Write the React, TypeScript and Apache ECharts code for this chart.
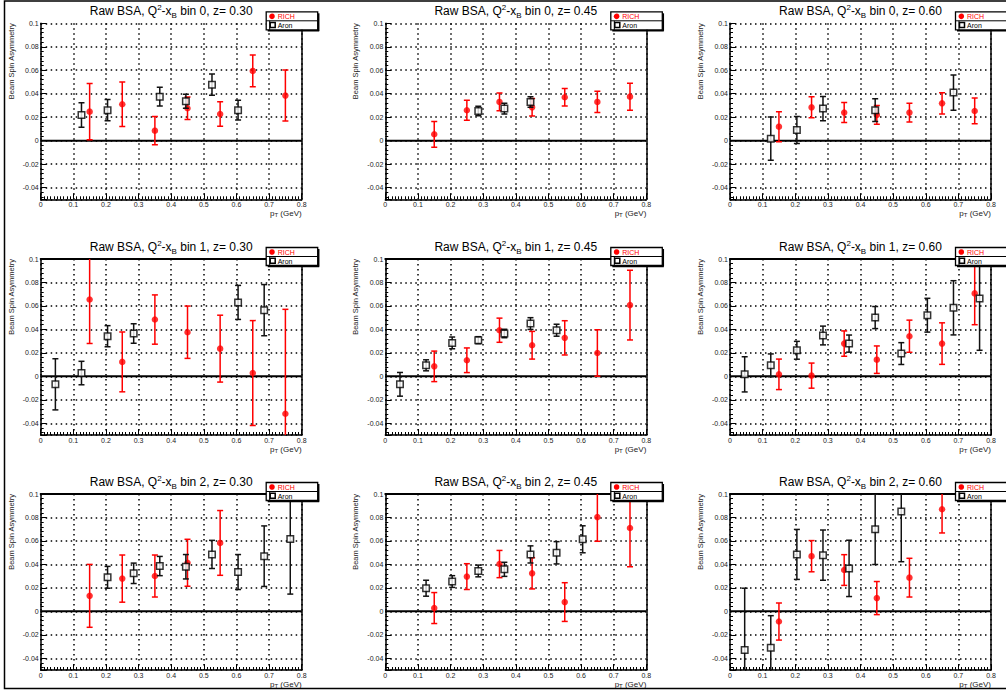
import React, { useEffect, useRef } from 'react';
import * as echarts from 'echarts';

// ---------- data ----------
const pT_RICH = [0.15, 0.25, 0.35, 0.45, 0.55, 0.65, 0.75];
const pT_Aron = [0.045, 0.125, 0.205, 0.285, 0.365, 0.445, 0.525, 0.605, 0.685, 0.765];

const xTickValues = [0, 0.1, 0.2, 0.3, 0.4, 0.5, 0.6, 0.7, 0.8];
const xTickLabels = ['0', '0.1', '0.2', '0.3', '0.4', '0.5', '0.6', '0.7', '0.8'];
const yTickValues = [-0.04, -0.02, 0, 0.02, 0.04, 0.06, 0.08, 0.1];
const yTickLabels = ['-0.04', '-0.02', '0', '0.02', '0.04', '0.06', '0.08', '0.1'];

const binLabels = ['0', '1', '2'];
const zLabels = ['0.30', '0.45', '0.60'];

// bin 0
const rich_b0_z30 = [0.0247, 0.031, 0.0085, 0.0276, 0.0227, 0.0594, 0.0384];
const richErr_b0_z30 = [0.024, 0.019, 0.012, 0.0095, 0.0104, 0.0135, 0.0217];
const aron_b0_z30 = [null, 0.0219, 0.026, null, 0.0375, 0.0335, 0.0477, 0.026, null, null];
const aronErr_b0_z30 = [null, 0.0104, 0.009, null, 0.008, 0.006, 0.009, 0.0085, null, null];

const rich_b0_z45 = [0.0054, 0.0259, 0.033, 0.0284, 0.037, 0.033, 0.0375];
const richErr_b0_z45 = [0.011, 0.0085, 0.0075, 0.0075, 0.0075, 0.009, 0.0115];
const aron_b0_z45 = [null, null, null, 0.0253, 0.0273, 0.033, null, null, null, null];
const aronErr_b0_z45 = [null, null, null, 0.004, 0.0045, 0.0045, null, null, null, null];

const rich_b0_z60 = [0.0119, 0.0284, 0.0239, 0.0219, 0.0239, 0.0318, 0.0253];
const richErr_b0_z60 = [0.0128, 0.009, 0.0085, 0.008, 0.008, 0.009, 0.011];
const aron_b0_z60 = [null, 0.0017, 0.009, 0.0273, null, 0.026, null, null, 0.041, null];
const aronErr_b0_z60 = [null, 0.0185, 0.0115, 0.0103, null, 0.0097, null, null, 0.015, null];

// bin 1
const rich_b1_z30 = [0.0655, 0.0123, 0.0484, 0.0376, 0.0236, 0.0028, -0.0319];
const richErr_b1_z30 = [0.0375, 0.0255, 0.021, 0.0223, 0.0285, 0.0447, 0.089];
const aron_b1_z30 = [-0.0068, 0.0028, 0.0342, 0.0365, null, null, null, 0.063, 0.0564, null];
const aronErr_b1_z30 = [0.0218, 0.01, 0.009, 0.0083, null, null, null, 0.0145, 0.0218, null];

const rich_b1_z45 = [0.0085, 0.0137, 0.0393, 0.0265, 0.0328, 0.0199, 0.0607];
const richErr_b1_z45 = [0.013, 0.0105, 0.0103, 0.0118, 0.0146, 0.0198, 0.0297];
const aron_b1_z45 = [-0.0068, 0.0094, 0.0285, 0.0308, 0.0365, 0.045, 0.0393, null, null, null];
const aronErr_b1_z45 = [0.0101, 0.0047, 0.005, 0.003, 0.0036, 0.005, 0.0051, null, null, null];

const rich_b1_z60 = [0.0017, 0.0006, 0.0279, 0.0142, 0.0342, 0.0279, 0.0707];
const richErr_b1_z60 = [0.013, 0.0107, 0.0108, 0.0117, 0.0137, 0.0177, 0.0267];
const aron_b1_z60 = [0.0017, 0.0094, 0.0222, 0.0348, 0.0279, 0.0501, 0.0194, 0.0521, 0.0584, 0.0664];
const aronErr_b1_z60 = [0.015, 0.0097, 0.0076, 0.008, 0.0073, 0.0094, 0.0093, 0.0144, 0.0231, 0.0442];

// bin 2
const rich_b2_z30 = [0.0132, 0.0279, 0.0301, 0.0414, 0.0583, null, null];
const richErr_b2_z30 = [0.0268, 0.0201, 0.0179, 0.02, 0.0276, null, null];
const aron_b2_z30 = [null, null, 0.029, 0.0324, 0.0386, 0.038, 0.0485, 0.0335, 0.047, 0.0617];
const aronErr_b2_z30 = [null, null, 0.0093, 0.0087, 0.0082, 0.0104, 0.012, 0.0149, 0.0258, 0.047];

const rich_b2_z45 = [0.0028, 0.0296, 0.0403, 0.0324, 0.0079, 0.0803, 0.071];
const richErr_b2_z45 = [0.0132, 0.011, 0.0116, 0.0133, 0.0165, 0.0206, 0.033];
const aron_b2_z45 = [null, 0.0197, 0.0254, 0.0344, 0.0358, 0.0485, 0.0499, 0.0614, null, null];
const aronErr_b2_z45 = [null, 0.0068, 0.005, 0.005, 0.006, 0.0073, 0.0095, 0.0115, null, null];

const rich_b2_z60 = [-0.0087, 0.047, 0.0352, 0.0113, 0.0287, 0.087, null];
const richErr_b2_z60 = [0.0158, 0.0133, 0.0131, 0.0141, 0.0165, 0.0202, null];
const aron_b2_z60 = [-0.033, -0.031, 0.0485, 0.0479, 0.0366, 0.0699, 0.0851, null, null, null];
const aronErr_b2_z60 = [0.0527, 0.0273, 0.0213, 0.0214, 0.024, 0.03, 0.0428, null, null, null];

const panels = [
  { bin: 0, z: 0, rich: rich_b0_z30, richErr: richErr_b0_z30, aron: aron_b0_z30, aronErr: aronErr_b0_z30 },
  { bin: 0, z: 1, rich: rich_b0_z45, richErr: richErr_b0_z45, aron: aron_b0_z45, aronErr: aronErr_b0_z45 },
  { bin: 0, z: 2, rich: rich_b0_z60, richErr: richErr_b0_z60, aron: aron_b0_z60, aronErr: aronErr_b0_z60 },
  { bin: 1, z: 0, rich: rich_b1_z30, richErr: richErr_b1_z30, aron: aron_b1_z30, aronErr: aronErr_b1_z30 },
  { bin: 1, z: 1, rich: rich_b1_z45, richErr: richErr_b1_z45, aron: aron_b1_z45, aronErr: aronErr_b1_z45 },
  { bin: 1, z: 2, rich: rich_b1_z60, richErr: richErr_b1_z60, aron: aron_b1_z60, aronErr: aronErr_b1_z60 },
  { bin: 2, z: 0, rich: rich_b2_z30, richErr: richErr_b2_z30, aron: aron_b2_z30, aronErr: aronErr_b2_z30 },
  { bin: 2, z: 1, rich: rich_b2_z45, richErr: richErr_b2_z45, aron: aron_b2_z45, aronErr: aronErr_b2_z45 },
  { bin: 2, z: 2, rich: rich_b2_z60, richErr: richErr_b2_z60, aron: aron_b2_z60, aronErr: aronErr_b2_z60 },
];

// ---------- layout / style ----------
const FONT = '"Liberation Sans", Arial, Helvetica, sans-serif';
const RED = '#ff0000';
const W = 261;
const H = 176;
const colLeft = [40.7, 385.3, 730];
const rowTop = [23.3, 259, 494];

const tickLabel = (vals: number[], labels: string[]) => (v: number) => {
  const k = vals.findIndex((t) => Math.abs(t - v) < 1e-6);
  return k >= 0 ? labels[k] : '';
};

const errorBarRender = (color: string) => (params: any, api: any) => {
  const x = api.value(0);
  const y = api.value(1);
  const e = api.value(2);
  const c = api.coord([x, y]);
  const hi = api.coord([x, y + e]);
  const lo = api.coord([x, y - e]);
  const style = { stroke: color, lineWidth: 1.5 };
  const cap = 3;
  return {
    type: 'group',
    children: [
      { type: 'line', shape: { x1: c[0], y1: hi[1], x2: c[0], y2: lo[1] }, style },
      { type: 'line', shape: { x1: c[0] - cap, y1: hi[1], x2: c[0] + cap, y2: hi[1] }, style },
      { type: 'line', shape: { x1: c[0] - cap, y1: lo[1], x2: c[0] + cap, y2: lo[1] }, style },
    ],
  };
};

function buildOption() {
  const grid: any[] = [];
  const xAxis: any[] = [];
  const yAxis: any[] = [];
  const series: any[] = [];
  const graphic: any[] = [];

  panels.forEach((p, i) => {
    const r = Math.floor(i / 3);
    const c = i % 3;
    grid.push({ left: colLeft[c], top: rowTop[r], width: W, height: H, show: false, containLabel: false, outerBoundsMode: 'none' });
  });

  // main axes
  panels.forEach((p, i) => {
    xAxis.push({
      gridIndex: i,
      type: 'value',
      position: 'bottom',
      min: 0,
      max: 0.8,
      interval: 0.1,
      axisLine: { show: true, onZero: false, lineStyle: { color: '#000', width: 1.5 } },
      axisTick: { show: true, inside: true, length: 6, lineStyle: { color: '#000', width: 1 } },
      minorTick: { show: true, splitNumber: 10, length: 3, lineStyle: { color: '#000', width: 1 } },
      splitLine: { show: true, lineStyle: { color: '#000', width: 1.5, type: [1.5, 3.5] } },
      axisLabel: {
        show: true,
        fontSize: 7,
        color: '#222',
        fontFamily: FONT,
        margin: 2,
        formatter: tickLabel(xTickValues, xTickLabels),
      },
    });
    yAxis.push({
      gridIndex: i,
      type: 'value',
      position: 'left',
      min: -0.05,
      max: 0.1,
      splitNumber: 7,
      minInterval: 0.02,
      maxInterval: 0.02,
      axisLine: { show: true, onZero: false, lineStyle: { color: '#000', width: 1.5 } },
      axisTick: { show: true, inside: true, length: 6, lineStyle: { color: '#000', width: 1 } },
      minorTick: { show: true, splitNumber: 5, length: 3, lineStyle: { color: '#000', width: 1 } },
      splitLine: { show: true, lineStyle: { color: '#000', width: 1.5, type: [1.5, 3.5] } },
      axisLabel: {
        show: true,
        fontSize: 7,
        color: '#222',
        fontFamily: FONT,
        margin: 2,
        showMinLabel: false,
        formatter: tickLabel(yTickValues, yTickLabels),
      },
    });
  });
  // frame axes (top / right)
  panels.forEach((p, i) => {
    const r = Math.floor(i / 3);
    xAxis.push({
      gridIndex: i,
      type: 'value',
      position: 'top',
      min: 0,
      max: 0.8,
      show: r > 0,
      axisLine: { show: true, onZero: false, lineStyle: { color: '#000', width: 2 } },
      axisTick: { show: false },
      axisLabel: { show: false },
      splitLine: { show: false },
    });
    yAxis.push({
      gridIndex: i,
      type: 'value',
      position: 'right',
      min: -0.05,
      max: 0.1,
      axisLine: { show: true, onZero: false, lineStyle: { color: '#000', width: 1.5 } },
      axisTick: { show: false },
      axisLabel: { show: false },
      splitLine: { show: false },
    });
  });

  panels.forEach((p, i) => {
    const richData = pT_RICH.map((x, k) => [x, p.rich[k], p.richErr[k]]).filter((d) => d[1] != null);
    const aronData = pT_Aron.map((x, k) => [x, p.aron[k], p.aronErr[k]]).filter((d) => d[1] != null);
    series.push({
      type: 'line',
      xAxisIndex: i,
      yAxisIndex: i,
      data: [[0, 0], [0.8, 0]],
      symbol: 'none',
      silent: true,
      lineStyle: { color: '#000', width: 2 },
      z: 2,
    });
    series.push({
      type: 'custom',
      name: 'RICH',
      xAxisIndex: i,
      yAxisIndex: i,
      data: richData,
      encode: { x: 0, y: 1 },
      clip: true,
      silent: true,
      renderItem: errorBarRender(RED),
      z: 3,
    });
    series.push({
      type: 'scatter',
      name: 'RICH',
      xAxisIndex: i,
      yAxisIndex: i,
      data: richData.map((d) => [d[0], d[1]]),
      symbol: 'circle',
      symbolSize: 6.5,
      silent: true,
      itemStyle: { color: RED },
      z: 4,
    });
    series.push({
      type: 'custom',
      name: 'Aron',
      xAxisIndex: i,
      yAxisIndex: i,
      data: aronData,
      encode: { x: 0, y: 1 },
      clip: true,
      silent: true,
      renderItem: errorBarRender('#111'),
      z: 5,
    });
    series.push({
      type: 'scatter',
      name: 'Aron',
      xAxisIndex: i,
      yAxisIndex: i,
      data: aronData.map((d) => [d[0], d[1]]),
      symbol: 'rect',
      symbolSize: 6.5,
      silent: true,
      itemStyle: { color: '#fff', borderColor: '#000', borderWidth: 1.5 },
      z: 6,
    });
  });

  // texts, legends
  panels.forEach((p, i) => {
    const r = Math.floor(i / 3);
    const c = i % 3;
    const L = colLeft[c];
    const T = rowTop[r];
    graphic.push({
      type: 'text',
      x: L + W / 2,
      y: T - 12,
      silent: true,
      style: {
        text: `{a|Raw BSA, Q}{sup|2}{a|-x}{sub|B}{a| bin ${binLabels[p.bin]}, z= ${zLabels[p.z]}}`,
        align: 'center',
        verticalAlign: 'middle',
        rich: {
          a: { fontSize: 12, fontFamily: FONT, fill: '#000', lineHeight: 16 },
          sup: { fontSize: 8, fontFamily: FONT, fill: '#000', lineHeight: 8, verticalAlign: 'top' },
          sub: { fontSize: 8, fontFamily: FONT, fill: '#000', lineHeight: 8, verticalAlign: 'bottom' },
        },
      },
    });
    graphic.push({
      type: 'text',
      x: L - 29.5,
      y: T,
      rotation: Math.PI / 2,
      silent: true,
      style: {
        text: 'Beam Spin Asymmetry',
        align: 'right',
        verticalAlign: 'middle',
        fontSize: 7.5,
        fontFamily: FONT,
        fill: '#222',
      },
    });
    graphic.push({
      type: 'text',
      x: L + W,
      y: T + H + 14.5,
      silent: true,
      style: {
        text: '{a|p}{s|T}{a| (GeV)}',
        align: 'right',
        verticalAlign: 'middle',
        rich: {
          a: { fontSize: 8, fontFamily: FONT, fill: '#222', lineHeight: 8 },
          s: { fontSize: 6, fontFamily: FONT, fill: '#222', lineHeight: 5, verticalAlign: 'bottom' },
        },
      },
    });
    // legend
    const bx = L + 225.5;
    const by = T - 11.5;
    graphic.push({
      type: 'rect',
      silent: true,
      shape: { x: bx, y: by, width: 51.5, height: 18 },
      style: { fill: '#fff', stroke: '#000', lineWidth: 1.3 },
      z: 50,
    });
    graphic.push({
      type: 'line',
      silent: true,
      shape: { x1: bx + 51.5 + 1, y1: by + 1.5, x2: bx + 51.5 + 1, y2: by + 18 + 1 },
      style: { stroke: '#000', lineWidth: 1.5 },
      z: 50,
    });
    graphic.push({
      type: 'line',
      silent: true,
      shape: { x1: bx + 1.5, y1: by + 18 + 1, x2: bx + 51.5 + 1.5, y2: by + 18 + 1 },
      style: { stroke: '#000', lineWidth: 1.5 },
      z: 50,
    });
    graphic.push({
      type: 'line',
      silent: true,
      shape: { x1: bx, y1: by + 9, x2: bx + 51.5, y2: by + 9 },
      style: { stroke: '#000', lineWidth: 1 },
      z: 51,
    });
    graphic.push({
      type: 'circle',
      silent: true,
      shape: { cx: bx + 5.8, cy: by + 4.5, r: 2.8 },
      style: { fill: RED },
      z: 52,
    });
    graphic.push({
      type: 'text',
      silent: true,
      x: bx + 11.5,
      y: by + 4.7,
      style: { text: 'RICH', fontSize: 7, fontFamily: FONT, fill: RED, align: 'left', verticalAlign: 'middle' },
      z: 52,
    });
    graphic.push({
      type: 'line',
      silent: true,
      shape: { x1: bx + 3.5, y1: by + 9, x2: bx + 3.5, y2: by + 18 },
      style: { stroke: '#000', lineWidth: 1 },
      z: 52,
    });
    graphic.push({
      type: 'rect',
      silent: true,
      shape: { x: bx + 4, y: by + 10.8, width: 5, height: 5 },
      style: { fill: '#fff', stroke: '#000', lineWidth: 1.5 },
      z: 52,
    });
    graphic.push({
      type: 'text',
      silent: true,
      x: bx + 11.5,
      y: by + 13.7,
      style: { text: 'Aron', fontSize: 7, fontFamily: FONT, fill: '#000', align: 'left', verticalAlign: 'middle' },
      z: 52,
    });
  });

  // canvas border
  graphic.push({
    type: 'rect',
    silent: true,
    shape: { x: 4.5, y: 1, width: 1100, height: 687.5 },
    style: { fill: 'none', stroke: '#000', lineWidth: 1.5 },
    z: 100,
  });

  return {
    animation: false,
    backgroundColor: '#fff',
    textStyle: { fontFamily: FONT },
    grid,
    xAxis,
    yAxis,
    series,
    graphic,
  };
}

export default function App() {
  const ref = useRef<HTMLDivElement>(null);
  useEffect(() => {
    if (!ref.current) return;
    const chart = echarts.init(ref.current, undefined, { renderer: 'svg' });
    chart.setOption(buildOption() as any);
    return () => {
      chart.dispose();
    };
  }, []);
  return (
    <div
      ref={ref}
      style={{ position: 'fixed', left: 0, top: 0, width: 1006, height: 691, background: '#fff' }}
    />
  );
}
